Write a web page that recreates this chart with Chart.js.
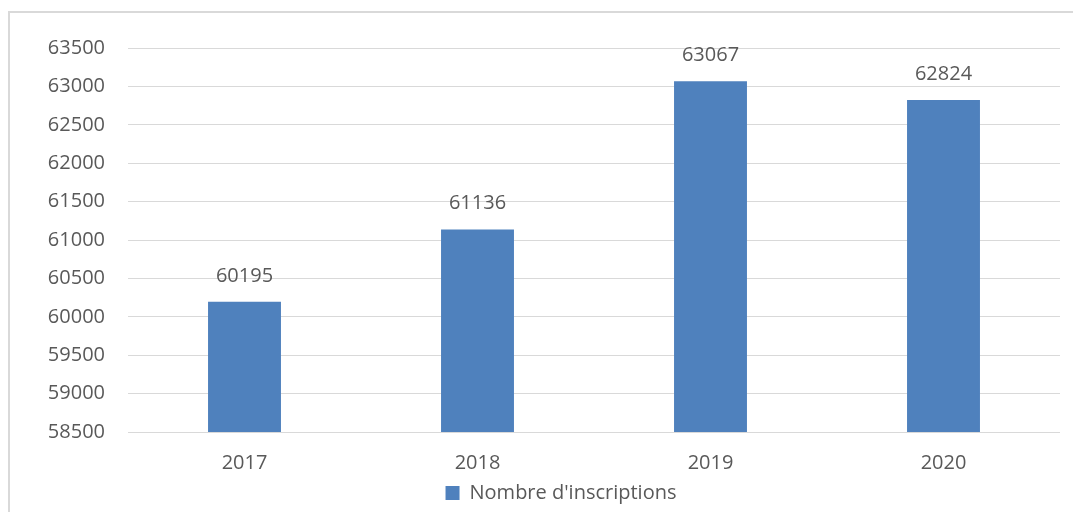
<!DOCTYPE html>
<html>
<head>
<meta charset="utf-8">
<script src="https://cdn.jsdelivr.net/npm/chart.js@4/dist/chart.umd.min.js"></script>
<style>
  html, body { margin: 0; padding: 0; background: #fff; overflow: hidden; }
  #frame { position: absolute; left: 8px; top: 11px; width: 1100px; height: 540px; border: 2px solid #d9d9d9; }
  #wrap { position: absolute; left: 0; top: 0; width: 1073px; height: 512px; }
</style>
</head>
<body>
<div id="frame"></div>
<div id="wrap"><canvas id="chart"></canvas></div>
<script>
// Data
const years = ['2017', '2018', '2019', '2020'];
const inscriptions = [60195, 61136, 63067, 62824];
const yMin = 58500;
const yMax = 63500;
const yStep = 500;

const textColor = '#595959';
const fontFamily = '"Open Sans", sans-serif';

// Draw value labels above bars
const valueLabels = {
  id: 'valueLabels',
  afterDatasetsDraw(chart) {
    const ctx = chart.ctx;
    const meta = chart.getDatasetMeta(0);
    ctx.save();
    ctx.font = '20px ' + fontFamily;
    ctx.fillStyle = textColor;
    ctx.textAlign = 'center';
    ctx.textBaseline = 'middle';
    meta.data.forEach((bar, i) => {
      ctx.fillText(String(chart.data.datasets[0].data[i]), bar.x, bar.y - 26);
    });
    ctx.restore();
  }
};

// Legend sits a bit right of the canvas centre in the original
const shiftLegend = {
  id: 'shiftLegend',
  afterLayout(chart) {
    if (chart.legend) {
      chart.legend.left += 31;
      chart.legend.right += 31;
    }
  }
};

const ctx = document.getElementById('chart').getContext('2d');
new Chart(ctx, {
  type: 'bar',
  data: {
    labels: years,
    datasets: [{
      label: "Nombre d'inscriptions",
      data: inscriptions,
      backgroundColor: '#4f81bd',
      borderWidth: 0,
      barPercentage: 0.313 / 0.9,
      categoryPercentage: 0.9
    }]
  },
  options: {
    responsive: true,
    maintainAspectRatio: false,
    animation: false,
    layout: { padding: { top: 48, right: 13, left: 0, bottom: -1 } },
    plugins: {
      legend: {
        position: 'bottom',
        labels: {
          boxWidth: 14,
          boxHeight: 14,
          padding: 0,
          color: textColor,
          font: { size: 20, family: fontFamily }
        }
      },
      tooltip: { enabled: false }
    },
    scales: {
      x: {
        afterFit(scale) { scale.height -= 3; },
        grid: { display: false },
        border: { display: false },
        ticks: { color: textColor, padding: 11, font: { size: 20, family: fontFamily } }
      },
      y: {
        min: yMin,
        max: yMax,
        afterFit(scale) { scale.width = 128; },
        grid: { color: '#d9d9d9', lineWidth: 1, drawTicks: false },
        border: { display: false },
        ticks: {
          stepSize: yStep,
          color: textColor,
          padding: 23,
          font: { size: 20, family: fontFamily },
          callback: (v) => String(v)
        }
      }
    }
  },
  plugins: [valueLabels, shiftLegend]
});
</script>
</body>
</html>
